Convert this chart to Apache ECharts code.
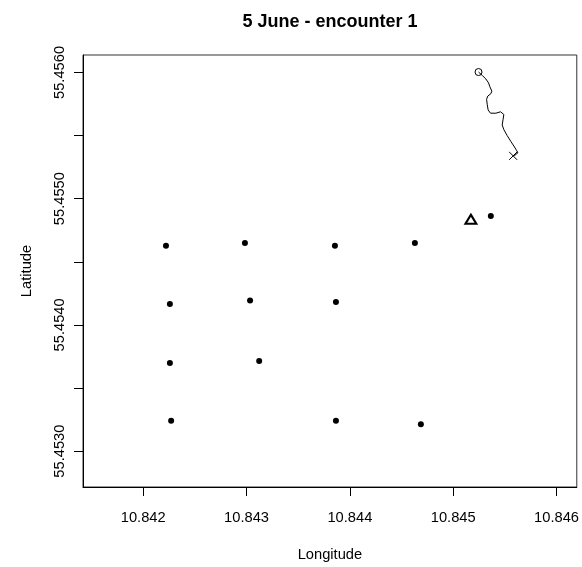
<!DOCTYPE html>
<html>
<head>
<meta charset="utf-8">
<script src="https://cdn.jsdelivr.net/npm/echarts@6/dist/echarts.min.js"></script>
<style>
html,body{margin:0;padding:0;background:#fff;}
#chart{width:582px;height:567px;}
</style>
</head>
<body>
<div id="chart"></div>
<script>
// Receiver / station positions (filled dots)
const stationLon = [10.842220, 10.842984, 10.842258, 10.843034, 10.842258, 10.843122, 10.842270,
                    10.843855, 10.844629, 10.843865, 10.843865, 10.844687, 10.845364];
const stationLat = [55.454628, 55.454648, 55.454166, 55.454193, 55.453698, 55.453714, 55.453240,
                    55.454628, 55.454648, 55.454181, 55.453241, 55.453214, 55.454863];
// Reference position (open triangle)
const refLon = [10.845171];
const refLat = [55.454837];
// Track of the animal
const trackLon = [10.845245, 10.845284, 10.845316, 10.845342, 10.845355, 10.845374, 10.845364, 10.845335,
                  10.845323, 10.845329, 10.845338, 10.845361, 10.845413, 10.845458, 10.845490, 10.845483,
                  10.845474, 10.845490, 10.845522, 10.845558, 10.845587, 10.845613, 10.845626, 10.845597,
                  10.845580];
const trackLat = [55.456003, 55.455974, 55.455948, 55.455917, 55.455886, 55.455852, 55.455831, 55.455813,
                  55.455787, 55.455748, 55.455703, 55.455677, 55.455677, 55.455688, 55.455667, 55.455630,
                  55.455584, 55.455547, 55.455500, 55.455453, 55.455417, 55.455383, 55.455363, 55.455344,
                  55.455339];
// Axis ticks
const xTicks = [10.842, 10.843, 10.844, 10.845, 10.846];
const yTicks = [55.4530, 55.4535, 55.4540, 55.4545, 55.4550, 55.4555, 55.4560];
const yLabels = [55.4530, 55.4540, 55.4550, 55.4560];

const FONT = '"Liberation Sans", Arial, sans-serif';
const zip = (a, b) => a.map((v, i) => [v, b[i]]);
const track = zip(trackLon, trackLat);

const chart = echarts.init(document.getElementById('chart'), null, {renderer: 'canvas'});
chart.setOption({
  animation: false,
  backgroundColor: '#fff',
  title: {
    text: '5 June - encounter 1',
    left: 330, top: 13, padding: 0, textAlign: 'center',
    textStyle: {fontFamily: FONT, fontSize: 18, fontWeight: 'bold', color: '#000'}
  },
  grid: {left: 83, top: 55, width: 494, height: 438, show: true, borderColor: '#333', borderWidth: 1, containLabel: false},
  xAxis: {
    type: 'value', min: 10.841417, max: 10.846196,
    name: 'Longitude', nameLocation: 'middle', nameGap: 60,
    nameTextStyle: {fontFamily: FONT, fontSize: 14.7, color: '#000'},
    axisLine: {show: true, onZero: false, lineStyle: {color: '#000', width: 1}},
    axisTick: {show: true, length: 9, customValues: xTicks, lineStyle: {color: '#000'}},
    axisLabel: {show: true, customValues: xTicks, margin: 23, fontFamily: FONT, fontSize: 14.7, color: '#000',
      formatter: v => v.toFixed(3)},
    splitLine: {show: false}
  },
  yAxis: {
    type: 'value', min: 55.452716, max: 55.456138,
    name: 'Latitude', nameLocation: 'middle', nameGap: 49,
    nameTextStyle: {fontFamily: FONT, fontSize: 14.7, color: '#000'},
    axisLine: {show: true, onZero: false, lineStyle: {color: '#000', width: 1}},
    axisTick: {show: true, length: 9, customValues: yTicks, lineStyle: {color: '#000'}},
    axisLabel: {show: true, customValues: yLabels, rotate: 90, margin: 16, fontFamily: FONT, fontSize: 14.7, color: '#000',
      formatter: v => v.toFixed(4)},
    splitLine: {show: false}
  },
  series: [
    {
      type: 'scatter', data: zip(stationLon, stationLat),
      symbol: 'circle', symbolSize: 6, itemStyle: {color: '#000', opacity: 1}
    },
    {
      type: 'scatter', data: zip(refLon, refLat),
      symbol: 'triangle', symbolSize: [11, 9], itemStyle: {color: '#fff', borderColor: '#000', borderWidth: 2, opacity: 1}
    },
    {
      type: 'line', data: track, showSymbol: false, symbol: 'none',
      lineStyle: {color: '#000', width: 1}
    },
    {
      type: 'scatter', data: [track[0]],
      symbol: 'circle', symbolSize: 7, itemStyle: {color: 'rgba(0,0,0,0)', borderColor: '#000', borderWidth: 1, opacity: 1}
    },
    {
      type: 'scatter', data: [track[track.length - 1]],
      symbol: 'path://M0,0L10,10M10,0L0,10', symbolSize: 8,
      itemStyle: {color: 'none', borderColor: '#000', borderWidth: 1, opacity: 1}
    }
  ]
});
</script>
</body>
</html>
